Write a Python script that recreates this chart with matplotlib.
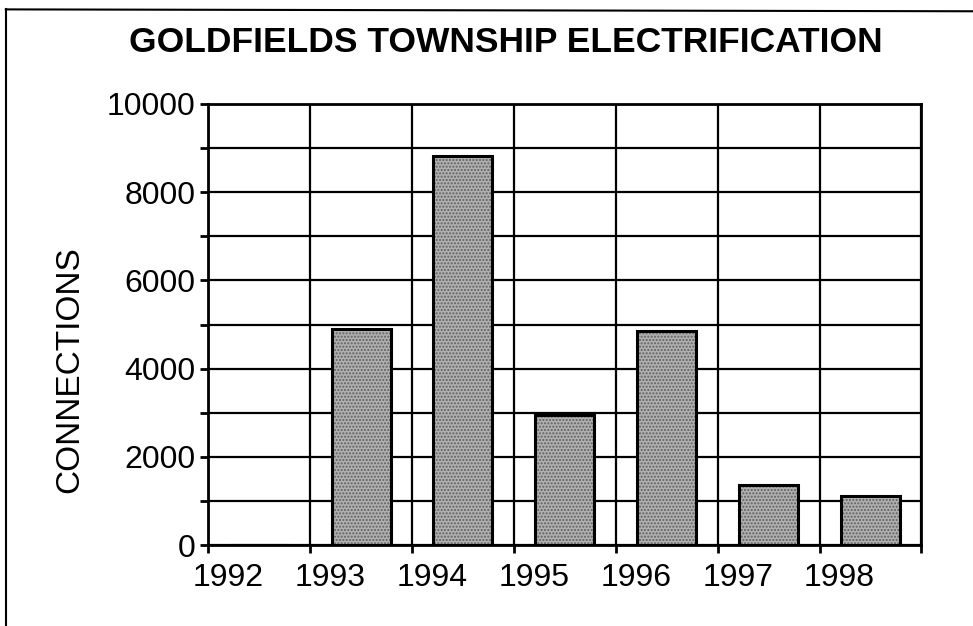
import matplotlib
matplotlib.use('Agg')
import matplotlib.pyplot as plt
import matplotlib.transforms as mtransforms
from matplotlib.lines import Line2D

years = [1992, 1993, 1994, 1995, 1996, 1997, 1998]
connections = [0, 4900, 8820, 2960, 4850, 1360, 1120]
y_ticks = [0, 2000, 4000, 6000, 8000, 10000]

plt.rcParams['font.family'] = ['Liberation Sans', 'DejaVu Sans']

fig = plt.figure(figsize=(9.73, 6.26), dpi=100)
ax = fig.add_axes([0.214, 0.129, 0.733, 0.705])

pos = [y + 0.5 for y in years]
# textured fill, then the black outline on top
ax.bar(pos, connections, width=0.58, color='#b0b0b0', edgecolor='#606060',
       hatch='.....', linewidth=0, zorder=3)
ax.bar(pos, connections, width=0.58, fill=False, edgecolor='black',
       linewidth=2.2, zorder=4)

ax.set_xlim(1992, 1999)
ax.set_ylim(0, 10000)
ax.set_yticks(y_ticks)
ax.set_yticks(range(1000, 10000, 2000), minor=True)
ax.set_xticks(years + [1999])
ax.set_xticklabels([str(y) for y in years] + [''])

ax.grid(True, which='both', color='black', linewidth=1.6, zorder=1)
ax.set_axisbelow(True)
for s in ax.spines.values():
    s.set_linewidth(2)
    s.set_zorder(5)

ax.tick_params(axis='both', which='major', direction='out', length=6, width=2,
               labelsize=23, pad=3)
ax.tick_params(axis='y', which='minor', direction='out', length=6, width=2)
ax.tick_params(axis='x', pad=7)

off = mtransforms.ScaledTranslation(0.2, 0, fig.dpi_scale_trans)
for lab in ax.get_xticklabels():
    lab.set_transform(lab.get_transform() + off)

ax.set_ylabel('CONNECTIONS', fontsize=24)
ax.yaxis.set_label_coords(-0.194, 0.397)
ax.yaxis.label.set_va('center')

fig.text(0.52, 0.932, 'GOLDFIELDS TOWNSHIP ELECTRIFICATION',
         fontweight='bold', fontsize=25.5, ha='center', va='center')

# page frame (left and top edges)
fig.add_artist(Line2D([0.006, 0.006], [0.0, 0.985], color='black', linewidth=1.5))
fig.add_artist(Line2D([0.006, 1.0], [0.985, 0.982], color='black', linewidth=1.5))

fig.savefig('out.png', dpi=100)
